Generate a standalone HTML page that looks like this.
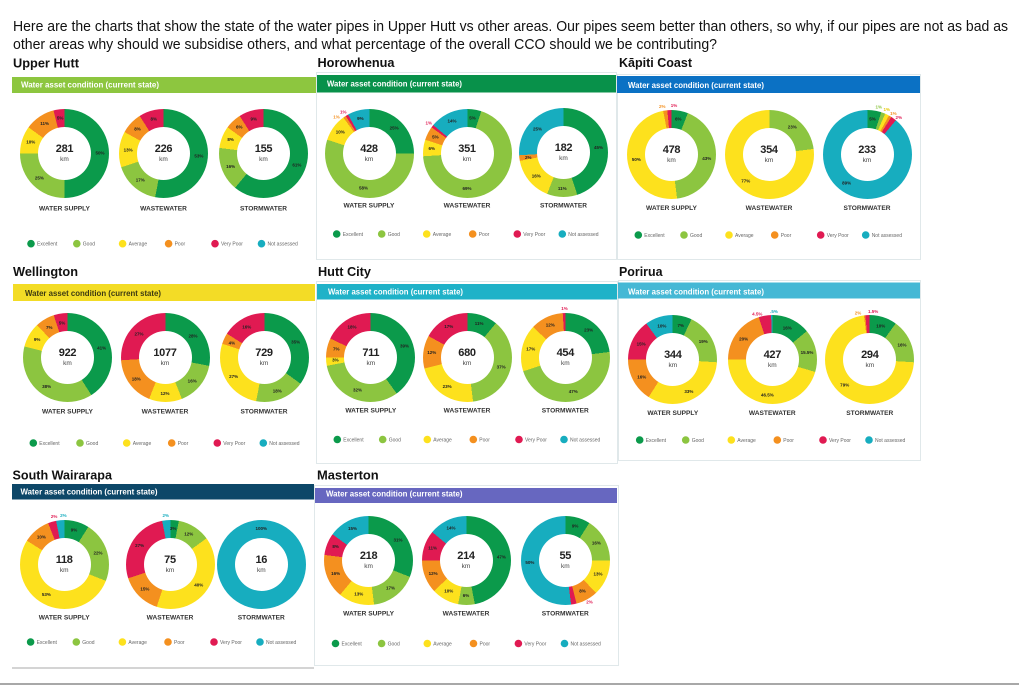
<!DOCTYPE html>
<html><head><meta charset="utf-8">
<style>
body{margin:0;width:1019px;height:685px;overflow:hidden;background:#fff;position:relative;font-family:"Liberation Sans",sans-serif}
:root{--E:#0b9a4b;--G:#8cc540;--A:#fde11d;--P:#f4901f;--V:#e01a52;--N:#17adbf}
svg.bg{position:absolute;left:0;top:0}
.hd{font-size:15px;fill:#111}
.tt{font-size:13px;font-weight:bold;fill:#111}
.bt{font-size:7.8px;font-weight:bold;fill:#fff}
.ct{font-size:6.6px;font-weight:bold;fill:#333;text-anchor:middle}
.lg text{font-size:5px;fill:#666}
.d{position:absolute;width:89px;height:89px;margin:-44.5px 0 0 -44.5px;border-radius:50%}
.h{position:absolute;left:18px;top:18px;width:53px;height:53px;border-radius:50%;background:#fff}
.n{position:absolute;left:0;top:35px;width:89px;text-align:center;font:bold 11px/11px "Liberation Sans",sans-serif;color:#222;letter-spacing:-0.3px}
.k{position:absolute;left:0;top:47px;width:89px;text-align:center;font:6.5px/7px "Liberation Sans",sans-serif;color:#444}
.d span{position:absolute;left:44.5px;top:44.5px;transform-origin:0 0;transform:rotate(var(--a)) translateY(var(--r,-35.5px)) rotate(calc(var(--a)*-1)) translate(-50%,-50%);font:bold 4.5px/5px "Liberation Sans",sans-serif;color:#222;white-space:nowrap}
.d span.o{--r:-48.5px}
</style></head><body>
<svg class="bg" width="1019" height="685" viewBox="0 0 1019 685">
<text class="hd" x="13" y="31" textLength="995" lengthAdjust="spacingAndGlyphs">Here are the charts that show the state of the water pipes in Upper Hutt vs other areas. Our pipes seem better than others, so why, if our pipes are not as bad as</text>
<text class="hd" x="13" y="49" textLength="704" lengthAdjust="spacingAndGlyphs">other areas why should we subsidise others, and what percentage of the overall CCO should we be contributing?</text>

<!-- panel borders -->
<g fill="none" stroke="#e0e8ea" stroke-width="1">
<rect x="316.5" y="72.5" width="300" height="187"/>
<rect x="617.5" y="74.5" width="303" height="185"/>
<rect x="316.5" y="281.5" width="301" height="182"/>
<rect x="618.5" y="280.5" width="302" height="180"/>
<rect x="314.5" y="485.5" width="304" height="180"/>
</g>
<rect x="12" y="667" width="302" height="2" fill="#d4d4d4"/>
<rect x="0" y="683" width="1019" height="2" fill="#a8a8a8"/>

<!-- titles -->
<text class="tt" x="13" y="67.7" textLength="66" lengthAdjust="spacingAndGlyphs">Upper Hutt</text>
<text class="tt" x="317.5" y="67" textLength="77" lengthAdjust="spacingAndGlyphs">Horowhenua</text>
<text class="tt" x="619" y="67" textLength="73" lengthAdjust="spacingAndGlyphs">Kāpiti Coast</text>
<text class="tt" x="13" y="276" textLength="65" lengthAdjust="spacingAndGlyphs">Wellington</text>
<text class="tt" x="318" y="276" textLength="53" lengthAdjust="spacingAndGlyphs">Hutt City</text>
<text class="tt" x="619" y="276" textLength="43.5" lengthAdjust="spacingAndGlyphs">Porirua</text>
<text class="tt" x="12.5" y="479.5" textLength="99.5" lengthAdjust="spacingAndGlyphs">South Wairarapa</text>
<text class="tt" x="317" y="479.5" textLength="61.7" lengthAdjust="spacingAndGlyphs">Masterton</text>

<!-- bars -->
<rect x="12" y="77" width="304" height="16" fill="#8dc63f"/>
<text class="bt" x="21" y="87.7" textLength="138" lengthAdjust="spacingAndGlyphs">Water asset condition (current state)</text>
<rect x="317" y="75" width="299" height="17.5" fill="#08914a"/>
<text class="bt" x="327" y="86.7" textLength="135" lengthAdjust="spacingAndGlyphs">Water asset condition (current state)</text>
<rect x="617" y="76" width="303" height="17" fill="#0b71c4"/>
<text class="bt" x="628" y="88" textLength="136" lengthAdjust="spacingAndGlyphs">Water asset condition (current state)</text>
<rect x="13" y="284" width="302" height="17" fill="#f3dc26"/>
<text class="bt" x="25" y="296" textLength="136" lengthAdjust="spacingAndGlyphs" style="fill:#3d3a12">Water asset condition (current state)</text>
<rect x="317" y="284" width="300" height="15.5" fill="#1fb2c8"/>
<text class="bt" x="328" y="294.4" textLength="135" lengthAdjust="spacingAndGlyphs">Water asset condition (current state)</text>
<rect x="618" y="282.5" width="302" height="16" fill="#45b8d5"/>
<text class="bt" x="628" y="294.4" textLength="136" lengthAdjust="spacingAndGlyphs">Water asset condition (current state)</text>
<rect x="12" y="484" width="302" height="15.5" fill="#0d4768"/>
<text class="bt" x="20.5" y="494.4" textLength="137" lengthAdjust="spacingAndGlyphs">Water asset condition (current state)</text>
<rect x="315" y="488" width="302" height="15" fill="#6767c0"/>
<text class="bt" x="326" y="496.7" textLength="136.5" lengthAdjust="spacingAndGlyphs">Water asset condition (current state)</text>

<!-- category labels -->
<text class="ct" x="64.5" y="210.4">WATER SUPPLY</text>
<text class="ct" x="163.5" y="210.4">WASTEWATER</text>
<text class="ct" x="263.5" y="210.4">STORMWATER</text>
<text class="ct" x="369" y="207.4">WATER SUPPLY</text>
<text class="ct" x="467" y="207.4">WASTEWATER</text>
<text class="ct" x="563.5" y="207.4">STORMWATER</text>
<text class="ct" x="671.5" y="210.1">WATER SUPPLY</text>
<text class="ct" x="769" y="210.1">WASTEWATER</text>
<text class="ct" x="867" y="210.1">STORMWATER</text>
<text class="ct" x="67.5" y="413.4">WATER SUPPLY</text>
<text class="ct" x="165" y="413.4">WASTEWATER</text>
<text class="ct" x="264" y="413.4">STORMWATER</text>
<text class="ct" x="370.8" y="412.7">WATER SUPPLY</text>
<text class="ct" x="467" y="412.7">WASTEWATER</text>
<text class="ct" x="565.3" y="412.7">STORMWATER</text>
<text class="ct" x="672.8" y="415.1">WATER SUPPLY</text>
<text class="ct" x="772.3" y="415.1">WASTEWATER</text>
<text class="ct" x="869.8" y="415.1">STORMWATER</text>
<text class="ct" x="64.2" y="619.7">WATER SUPPLY</text>
<text class="ct" x="170" y="619.7">WASTEWATER</text>
<text class="ct" x="261.3" y="619.7">STORMWATER</text>
<text class="ct" x="368.6" y="615.4">WATER SUPPLY</text>
<text class="ct" x="466" y="615.4">WASTEWATER</text>
<text class="ct" x="565.3" y="615.4">STORMWATER</text>

<!-- legends -->
<g class="lg" transform="translate(31,243.7)">
<circle r="3.8" fill="#0b9a4b"/><text x="6" y="1.8">Excellent</text>
<circle cx="45.8" r="3.8" fill="#8cc540"/><text x="51.8" y="1.8">Good</text>
<circle cx="91.6" r="3.8" fill="#fde11d"/><text x="97.6" y="1.8">Average</text>
<circle cx="137.6" r="3.8" fill="#f4901f"/><text x="143.6" y="1.8">Poor</text>
<circle cx="184" r="3.8" fill="#e01a52"/><text x="190" y="1.8">Very Poor</text>
<circle cx="230.5" r="3.8" fill="#17adbf"/><text x="236.5" y="1.8">Not assessed</text>
</g>
<g class="lg" transform="translate(336.7,234)">
<circle r="3.8" fill="#0b9a4b"/><text x="6" y="1.8">Excellent</text>
<circle cx="45" r="3.8" fill="#8cc540"/><text x="51" y="1.8">Good</text>
<circle cx="90" r="3.8" fill="#fde11d"/><text x="96" y="1.8">Average</text>
<circle cx="136" r="3.8" fill="#f4901f"/><text x="142" y="1.8">Poor</text>
<circle cx="180.6" r="3.8" fill="#e01a52"/><text x="186.6" y="1.8">Very Poor</text>
<circle cx="225.6" r="3.8" fill="#17adbf"/><text x="231.6" y="1.8">Not assessed</text>
</g>
<g class="lg" transform="translate(638.3,235)">
<circle r="3.8" fill="#0b9a4b"/><text x="6" y="1.8">Excellent</text>
<circle cx="45.7" r="3.8" fill="#8cc540"/><text x="51.7" y="1.8">Good</text>
<circle cx="90.7" r="3.8" fill="#fde11d"/><text x="96.7" y="1.8">Average</text>
<circle cx="136.4" r="3.8" fill="#f4901f"/><text x="142.4" y="1.8">Poor</text>
<circle cx="182.4" r="3.8" fill="#e01a52"/><text x="188.4" y="1.8">Very Poor</text>
<circle cx="227.4" r="3.8" fill="#17adbf"/><text x="233.4" y="1.8">Not assessed</text>
</g>
<g class="lg" transform="translate(33.3,443)">
<circle r="3.8" fill="#0b9a4b"/><text x="6" y="1.8">Excellent</text>
<circle cx="46.7" r="3.8" fill="#8cc540"/><text x="52.7" y="1.8">Good</text>
<circle cx="93.4" r="3.8" fill="#fde11d"/><text x="99.4" y="1.8">Average</text>
<circle cx="138.4" r="3.8" fill="#f4901f"/><text x="144.4" y="1.8">Poor</text>
<circle cx="184" r="3.8" fill="#e01a52"/><text x="190" y="1.8">Very Poor</text>
<circle cx="230" r="3.8" fill="#17adbf"/><text x="236" y="1.8">Not assessed</text>
</g>
<g class="lg" transform="translate(337.3,439.5)">
<circle r="3.8" fill="#0b9a4b"/><text x="6" y="1.8">Excellent</text>
<circle cx="45.4" r="3.8" fill="#8cc540"/><text x="51.4" y="1.8">Good</text>
<circle cx="90" r="3.8" fill="#fde11d"/><text x="96" y="1.8">Average</text>
<circle cx="136" r="3.8" fill="#f4901f"/><text x="142" y="1.8">Poor</text>
<circle cx="181.7" r="3.8" fill="#e01a52"/><text x="187.7" y="1.8">Very Poor</text>
<circle cx="226.7" r="3.8" fill="#17adbf"/><text x="232.7" y="1.8">Not assessed</text>
</g>
<g class="lg" transform="translate(639.7,440)">
<circle r="3.8" fill="#0b9a4b"/><text x="6" y="1.8">Excellent</text>
<circle cx="46" r="3.8" fill="#8cc540"/><text x="52" y="1.8">Good</text>
<circle cx="91.6" r="3.8" fill="#fde11d"/><text x="97.6" y="1.8">Average</text>
<circle cx="137.6" r="3.8" fill="#f4901f"/><text x="143.6" y="1.8">Poor</text>
<circle cx="183.3" r="3.8" fill="#e01a52"/><text x="189.3" y="1.8">Very Poor</text>
<circle cx="229.3" r="3.8" fill="#17adbf"/><text x="235.3" y="1.8">Not assessed</text>
</g>
<g class="lg" transform="translate(30.6,642)">
<circle r="3.8" fill="#0b9a4b"/><text x="6" y="1.8">Excellent</text>
<circle cx="45.7" r="3.8" fill="#8cc540"/><text x="51.7" y="1.8">Good</text>
<circle cx="91.8" r="3.8" fill="#fde11d"/><text x="97.8" y="1.8">Average</text>
<circle cx="137.4" r="3.8" fill="#f4901f"/><text x="143.4" y="1.8">Poor</text>
<circle cx="183.4" r="3.8" fill="#e01a52"/><text x="189.4" y="1.8">Very Poor</text>
<circle cx="229.4" r="3.8" fill="#17adbf"/><text x="235.4" y="1.8">Not assessed</text>
</g>
<g class="lg" transform="translate(335.5,643.5)">
<circle r="3.8" fill="#0b9a4b"/><text x="6" y="1.8">Excellent</text>
<circle cx="46.1" r="3.8" fill="#8cc540"/><text x="52.1" y="1.8">Good</text>
<circle cx="91.8" r="3.8" fill="#fde11d"/><text x="97.8" y="1.8">Average</text>
<circle cx="138" r="3.8" fill="#f4901f"/><text x="144" y="1.8">Poor</text>
<circle cx="182.9" r="3.8" fill="#e01a52"/><text x="188.9" y="1.8">Very Poor</text>
<circle cx="229" r="3.8" fill="#17adbf"/><text x="235" y="1.8">Not assessed</text>
</g>
</svg>

<!-- Upper Hutt -->
<div class="d" style="left:64.5px;top:153px;background:conic-gradient(var(--E) 0 50%,var(--G) 0 75%,var(--A) 0 85%,var(--P) 0 96%,var(--V) 0)"><div class="h"></div><div class="n">281</div><div class="k">km</div>
<span style="--a:90deg">50%</span><span style="--a:225deg">25%</span><span style="--a:288deg">10%</span><span style="--a:326deg">11%</span><span style="--a:353deg">5%</span></div>
<div class="d" style="left:163.5px;top:153px;background:conic-gradient(var(--E) 0 53%,var(--G) 0 70%,var(--A) 0 83%,var(--P) 0 91%,var(--V) 0)"><div class="h"></div><div class="n">226</div><div class="k">km</div>
<span style="--a:95deg">53%</span><span style="--a:221deg">17%</span><span style="--a:275deg">13%</span><span style="--a:313deg">8%</span><span style="--a:344deg">8%</span></div>
<div class="d" style="left:263.5px;top:153px;background:conic-gradient(var(--E) 0 61%,var(--G) 0 77%,var(--A) 0 85%,var(--P) 0 91%,var(--V) 0)"><div class="h"></div><div class="n">155</div><div class="k">km</div>
<span style="--a:110deg">61%</span><span style="--a:248deg">16%</span><span style="--a:292deg">8%</span><span style="--a:317deg">6%</span><span style="--a:344deg">9%</span></div>

<!-- Horowhenua -->
<div class="d" style="left:369px;top:153px;background:conic-gradient(var(--E) 0 25%,var(--G) 0 80%,var(--A) 0 90%,var(--P) 0 91%,var(--V) 0 92%,var(--N) 0)"><div class="h"></div><div class="n">428</div><div class="k">km</div>
<span style="--a:45deg">25%</span><span style="--a:189deg">58%</span><span style="--a:306deg">10%</span><span style="--a:346deg">9%</span><span class="o" style="--a:318deg;color:#f4901f">1%</span><span class="o" style="--a:328deg;color:#e01a52">1%</span></div>
<div class="d" style="left:467px;top:153px;background:conic-gradient(var(--E) 0 5%,var(--G) 0 74%,var(--A) 0 80%,var(--P) 0 85%,var(--V) 0 86%,var(--N) 0)"><div class="h"></div><div class="n">351</div><div class="k">km</div>
<span style="--a:9deg">5%</span><span style="--a:180deg">69%</span><span style="--a:277deg">6%</span><span style="--a:297deg">5%</span><span style="--a:335deg">14%</span><span class="o" style="--a:308deg;color:#e01a52">1%</span></div>
<div class="d" style="left:563.5px;top:152.5px;background:conic-gradient(var(--E) 0 45%,var(--G) 0 56%,var(--A) 0 72%,var(--P) 0 74%,var(--N) 0)"><div class="h"></div><div class="n">182</div><div class="k">km</div>
<span style="--a:81deg">45%</span><span style="--a:182deg">11%</span><span style="--a:230deg">16%</span><span style="--a:263deg">2%</span><span style="--a:313deg">25%</span></div>

<!-- Kapiti -->
<div class="d" style="left:671.5px;top:154px;background:conic-gradient(var(--E) 0 6%,var(--G) 0 48%,var(--A) 0 97%,var(--P) 0 98.5%,var(--V) 0)"><div class="h"></div><div class="n">478</div><div class="k">km</div>
<span style="--a:11deg">6%</span><span style="--a:97deg">43%</span><span style="--a:261deg">50%</span><span class="o" style="--a:349deg;color:#f4901f">2%</span><span class="o" style="--a:3deg;color:#e01a52">1%</span></div>
<div class="d" style="left:769px;top:154px;background:conic-gradient(var(--G) 0 23%,var(--A) 0)"><div class="h"></div><div class="n">354</div><div class="k">km</div>
<span style="--a:41deg">23%</span><span style="--a:221deg">77%</span></div>
<div class="d" style="left:867px;top:154px;background:conic-gradient(var(--E) 0 5%,var(--G) 0 6.5%,var(--A) 0 8%,var(--P) 0 9%,var(--V) 0 11%,var(--N) 0)"><div class="h"></div><div class="n">233</div><div class="k">km</div>
<span style="--a:9deg">5%</span><span style="--a:215deg">89%</span><span class="o" style="--a:14deg;color:#8cc540">1%</span><span class="o" style="--a:24deg;color:#e6c800">1%</span><span class="o" style="--a:33deg;color:#f4901f">1%</span><span class="o" style="--a:41deg;color:#e01a52">2%</span></div>

<!-- Wellington -->
<div class="d" style="left:67.5px;top:357.5px;background:conic-gradient(var(--E) 0 41%,var(--G) 0 79%,var(--A) 0 88%,var(--P) 0 95%,var(--V) 0)"><div class="h"></div><div class="n">922</div><div class="k">km</div>
<span style="--a:74deg">41%</span><span style="--a:216deg">38%</span><span style="--a:301deg">9%</span><span style="--a:329deg">7%</span><span style="--a:351deg">5%</span></div>
<div class="d" style="left:165px;top:357.5px;background:conic-gradient(var(--E) 0 28%,var(--G) 0 44%,var(--A) 0 56%,var(--P) 0 74%,var(--V) 0)"><div class="h"></div><div class="n">1077</div><div class="k">km</div>
<span style="--a:52deg">28%</span><span style="--a:130deg">16%</span><span style="--a:180deg">12%</span><span style="--a:234deg">18%</span><span style="--a:313deg">27%</span></div>
<div class="d" style="left:264px;top:357.5px;background:conic-gradient(var(--E) 0 35%,var(--G) 0 53%,var(--A) 0 80%,var(--P) 0 84%,var(--V) 0)"><div class="h"></div><div class="n">729</div><div class="k">km</div>
<span style="--a:63deg">35%</span><span style="--a:158deg">18%</span><span style="--a:239deg">27%</span><span style="--a:295deg">4%</span><span style="--a:331deg">16%</span></div>

<!-- Hutt City -->
<div class="d" style="left:370.8px;top:357px;background:conic-gradient(var(--E) 0 40%,var(--G) 0 72%,var(--A) 0 75%,var(--P) 0 82%,var(--V) 0)"><div class="h"></div><div class="n">711</div><div class="k">km</div>
<span style="--a:72deg">39%</span><span style="--a:202deg">32%</span><span style="--a:265deg">3%</span><span style="--a:283deg">7%</span><span style="--a:328deg">18%</span></div>
<div class="d" style="left:467px;top:357px;background:conic-gradient(var(--E) 0 11%,var(--G) 0 48%,var(--A) 0 71%,var(--P) 0 83%,var(--V) 0)"><div class="h"></div><div class="n">680</div><div class="k">km</div>
<span style="--a:20deg">11%</span><span style="--a:106deg">37%</span><span style="--a:214deg">23%</span><span style="--a:277deg">12%</span><span style="--a:329deg">17%</span></div>
<div class="d" style="left:565.3px;top:357px;background:conic-gradient(var(--E) 0 23%,var(--G) 0 70%,var(--A) 0 87%,var(--P) 0 99%,var(--V) 0)"><div class="h"></div><div class="n">454</div><div class="k">km</div>
<span style="--a:41deg">23%</span><span style="--a:167deg">47%</span><span style="--a:283deg">17%</span><span style="--a:335deg">12%</span><span class="o" style="--a:359deg;color:#e01a52">1%</span></div>

<!-- Porirua -->
<div class="d" style="left:672.8px;top:359.7px;background:conic-gradient(var(--E) 0 7%,var(--G) 0 26%,var(--A) 0 59%,var(--P) 0 75%,var(--V) 0 90%,var(--N) 0)"><div class="h"></div><div class="n">344</div><div class="k">km</div>
<span style="--a:13deg">7%</span><span style="--a:59deg">19%</span><span style="--a:153deg">33%</span><span style="--a:241deg">16%</span><span style="--a:297deg">15%</span><span style="--a:342deg">10%</span></div>
<div class="d" style="left:772.3px;top:359.7px;background:conic-gradient(var(--E) 0 14%,var(--G) 0 29.5%,var(--A) 0 75%,var(--P) 0 95%,var(--V) 0 99.5%,var(--N) 0)"><div class="h"></div><div class="n">427</div><div class="k">km</div>
<span style="--a:25deg">16%</span><span style="--a:78deg">15.5%</span><span style="--a:188deg">46.5%</span><span style="--a:306deg">20%</span><span class="o" style="--a:342deg;color:#e01a52">4.5%</span><span class="o" style="--a:2deg;color:#17adbf">.5%</span></div>
<div class="d" style="left:869.8px;top:359.7px;background:conic-gradient(var(--E) 0 10%,var(--G) 0 26%,var(--A) 0 98%,var(--P) 0 98.5%,var(--V) 0)"><div class="h"></div><div class="n">294</div><div class="k">km</div>
<span style="--a:18deg">10%</span><span style="--a:65deg">16%</span><span style="--a:225deg">79%</span><span class="o" style="--a:346deg;color:#f4901f">2%</span><span class="o" style="--a:4deg;color:#e01a52">1.5%</span></div>

<!-- South Wairarapa -->
<div class="d" style="left:64.2px;top:564px;background:conic-gradient(var(--E) 0 9%,var(--G) 0 31%,var(--A) 0 84%,var(--P) 0 94%,var(--V) 0 97%,var(--N) 0)"><div class="h"></div><div class="n">118</div><div class="k">km</div>
<span style="--a:16deg">9%</span><span style="--a:72deg">22%</span><span style="--a:210deg">53%</span><span style="--a:320deg">10%</span><span class="o" style="--a:348deg;color:#e01a52">2%</span><span class="o" style="--a:359deg;color:#17adbf">2%</span></div>
<div class="d" style="left:170px;top:564.3px;background:conic-gradient(var(--E) 0 3%,var(--G) 0 15%,var(--A) 0 55%,var(--P) 0 70%,var(--V) 0 97%,var(--N) 0)"><div class="h"></div><div class="n">75</div><div class="k">km</div>
<span style="--a:5deg">3%</span><span style="--a:32deg">12%</span><span style="--a:126deg">40%</span><span style="--a:225deg">15%</span><span style="--a:301deg">27%</span><span class="o" style="--a:355deg;color:#17adbf">2%</span></div>
<div class="d" style="left:261.3px;top:564px;background:var(--N)"><div class="h"></div><div class="n">16</div><div class="k">km</div>
<span style="--a:0deg">100%</span></div>

<!-- Masterton -->
<div class="d" style="left:368.6px;top:560px;background:conic-gradient(var(--E) 0 31%,var(--G) 0 48%,var(--A) 0 61%,var(--P) 0 77%,var(--V) 0 85%,var(--N) 0)"><div class="h"></div><div class="n">218</div><div class="k">km</div>
<span style="--a:56deg">31%</span><span style="--a:142deg">17%</span><span style="--a:196deg">13%</span><span style="--a:248deg">16%</span><span style="--a:292deg">8%</span><span style="--a:333deg">15%</span></div>
<div class="d" style="left:466px;top:560px;background:conic-gradient(var(--E) 0 47%,var(--G) 0 53%,var(--A) 0 63%,var(--P) 0 75%,var(--V) 0 86%,var(--N) 0)"><div class="h"></div><div class="n">214</div><div class="k">km</div>
<span style="--a:85deg">47%</span><span style="--a:180deg">6%</span><span style="--a:209deg">10%</span><span style="--a:248deg">12%</span><span style="--a:290deg">11%</span><span style="--a:335deg">14%</span></div>
<div class="d" style="left:565.3px;top:560px;background:conic-gradient(var(--E) 0 9%,var(--G) 0 25%,var(--A) 0 38%,var(--P) 0 46%,var(--V) 0 48%,var(--N) 0)"><div class="h"></div><div class="n">55</div><div class="k">km</div>
<span style="--a:16deg">9%</span><span style="--a:61deg">16%</span><span style="--a:113deg">13%</span><span style="--a:151deg">8%</span><span style="--a:266deg">50%</span><span class="o" style="--a:150deg;color:#e01a52">2%</span></div>

</body></html>
